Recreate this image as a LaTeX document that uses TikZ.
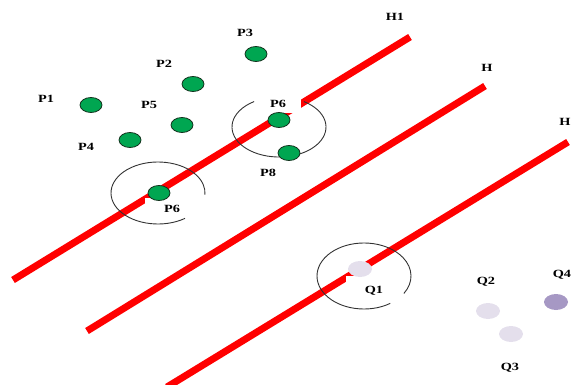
\documentclass[tikz,border=0pt]{standalone}
\usepackage{fontspec}
\setmainfont{Liberation Serif}
\usepackage{graphicx}
\usetikzlibrary{shapes.geometric}
\definecolor{hypred}{RGB}{255,0,0}
\definecolor{pgreen}{RGB}{0,166,81}
\definecolor{dotedge}{RGB}{20,50,30}
\definecolor{ringgray}{RGB}{50,50,50}
\definecolor{qlight}{RGB}{228,223,236}
\definecolor{qdark}{RGB}{166,152,196}
\newcommand{\widetext}[1]{\scalebox{1.3}[1]{#1}}
\begin{document}
\begin{tikzpicture}[x=1pt,y=-1pt,
  hyper/.style={draw=hypred, line width=7pt},
  ring/.style={draw=ringgray, line width=0.9pt},
  pdot/.style={ellipse, draw=dotedge, line width=0.8pt, fill=pgreen,
    minimum width=22pt, minimum height=15pt, inner sep=0pt},
  qdot/.style={ellipse, fill=qlight, minimum width=24pt, minimum height=16pt, inner sep=0pt},
  lbl/.style={font=\fontsize{11}{13}\selectfont\bfseries, inner sep=0pt},
  mask/.style={fill=white, draw=none}]
\useasboundingbox (0,0) rectangle (573,385);

% three parallel separating lines
\coordinate (h1a) at (13,280);  \coordinate (h1b) at (410,37);
\coordinate (h2a) at (87,331);  \coordinate (h2b) at (485,86);
\coordinate (h3a) at (167,387); \coordinate (h3b) at (568,142);
\draw[hyper] (h1a) -- (h1b);
\draw[hyper] (h2a) -- (h2b);
\draw[hyper] (h3a) -- (h3b);

% neighbourhood rings
\coordinate (ringA) at (279,127);
\coordinate (ringB) at (158,193);
\coordinate (ringC) at (364,276);
\draw[ring] (ringA) ++(-58:47 and 30) arc[start angle=-58, end angle=238, x radius=47, y radius=30];
\draw[ring] (ringB) ++(55:47 and 31) arc[start angle=55, end angle=363, x radius=47, y radius=31];
\draw[ring] (ringC) ++(56:47 and 33) arc[start angle=56, end angle=392, x radius=47, y radius=33];

% label backgrounds
\fill[mask] (255,85) rectangle (301,113);
\fill[mask] (145,198) rectangle (172,205);
\fill[mask] (346,276) rectangle (372,285);

% points of the first class
\node[pdot] (p1) at (91,105) {};
\node[pdot] (p2) at (193,84) {};
\node[pdot] (p3) at (256,54) {};
\node[pdot] (p4) at (130,140) {};
\node[pdot] (p5) at (182,125) {};
\node[pdot] (p6a) at (279,120) {};
\node[pdot] (p8) at (289,153) {};
\node[pdot] (p6b) at (159,193) {};

% points of the second class
\node[qdot] (q1) at (360,269) {};
\node[qdot] (q2) at (488,311) {};
\node[qdot] (q3) at (511,334) {};
\node[qdot, fill=qdark] (q4) at (556,302) {};

% labels
\node[lbl] (lh1) at (395,17) {\widetext{H1}};
\node[lbl] (lh2) at (487,68) {\widetext{H}};
\node[lbl] (lh3) at (565,122) {\widetext{H}};
\node[lbl] (lp1) at (46,99) {\widetext{P1}};
\node[lbl] (lp2) at (164,64) {\widetext{P2}};
\node[lbl] (lp3) at (245,33) {\widetext{P3}};
\node[lbl] (lp4) at (86,147) {\widetext{P4}};
\node[lbl] (lp5) at (149,105) {\widetext{P5}};
\node[lbl] (lp6a) at (278,104) {\widetext{P6}};
\node[lbl] (lp8) at (268,173) {\widetext{P8}};
\node[lbl] (lp6b) at (172,209) {\widetext{P6}};
\node[lbl] (lq1) at (374,291) {\widetext{Q1}};
\node[lbl] (lq2) at (486,282) {\widetext{Q2}};
\node[lbl] (lq3) at (510,368) {\widetext{Q3}};
\node[lbl] (lq4) at (562,275) {\widetext{Q4}};
\end{tikzpicture}
\end{document}
